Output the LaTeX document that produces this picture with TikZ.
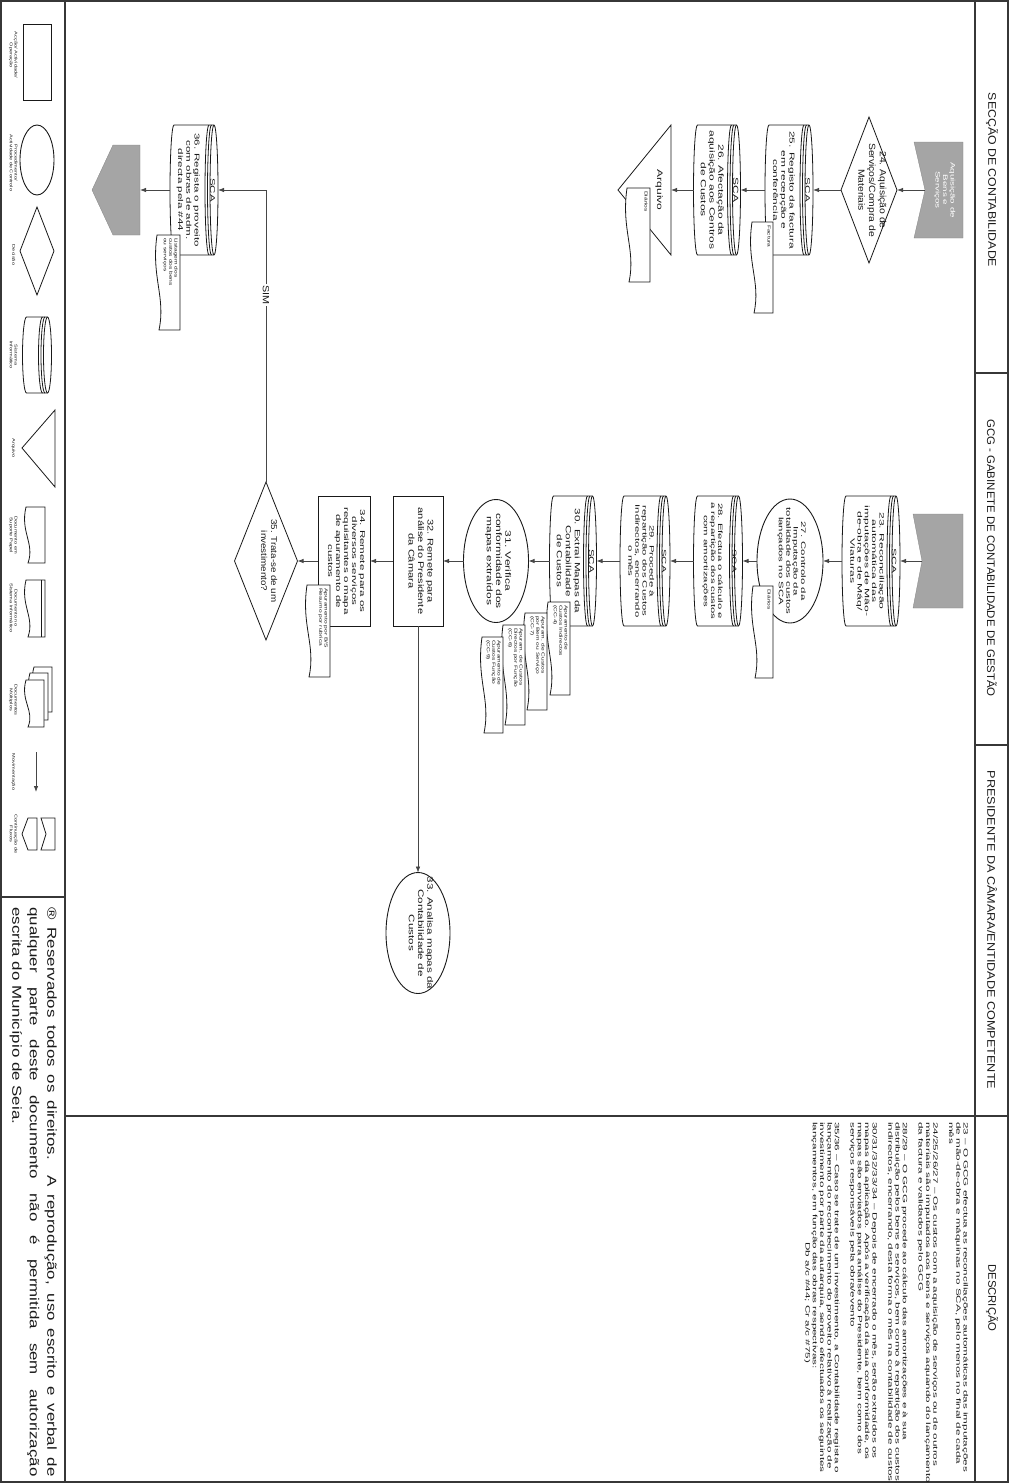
\documentclass[tikz,border=0pt]{standalone}
\usepackage{fontspec}
\setmainfont{Liberation Sans}
\usepackage{graphicx}
\usetikzlibrary{positioning,arrows.meta,shapes.geometric}
\definecolor{ink}{RGB}{25,25,25}
\definecolor{rulegray}{RGB}{55,55,55}
\definecolor{flowgray}{RGB}{70,70,70}
\definecolor{shade}{RGB}{165,165,165}
\newcommand{\fs}[2]{\fontsize{#1}{#2}\selectfont}
\newcommand{\vtext}[2][1.7]{\smash{\makebox[0pt]{\scalebox{#1}[1]{\begin{tabular}{@{}c@{}}#2\end{tabular}}}}}
\newcommand{\vleft}[2][1.5]{\scalebox{#1}[1]{\begin{tabular}{@{}l@{}}#2\end{tabular}}}
% disco SCA: nome, x, y, largura, altura, texto
\newcommand{\scadrum}[6]{%
  \pgfmathsetmacro{\drumh}{#5/2}%
  \pgfmathsetmacro{\drumxl}{#2-#4/2+4}%
  \pgfmathsetmacro{\drumxr}{#2+#4/2-4}%
  \filldraw[drumline, fill=white] (\drumxr,#3-\drumh) -- (\drumxl,#3-\drumh)
    arc[start angle=90,end angle=270,x radius=4pt,y radius=\drumh pt]
    -- (\drumxr,#3+\drumh)
    arc[start angle=270,end angle=450,x radius=4pt,y radius=\drumh pt] -- cycle;
  \draw[drumline] (\drumxr,#3-\drumh) arc[start angle=90,end angle=270,x radius=4pt,y radius=\drumh pt];
  \draw[drumline] (\drumxr-2.5,#3-\drumh) arc[start angle=90,end angle=270,x radius=4pt,y radius=\drumh pt];
  \draw[drumline] (\drumxr-5,#3-\drumh) arc[start angle=90,end angle=270,x radius=4pt,y radius=\drumh pt];
  \node[box, minimum width=#5pt, minimum height=#4pt] (#1) at (#2,#3) {#6};}
% documento em papel: nome, x1, y1, x2, y2, texto
\newcommand{\paperdoc}[6]{%
  \filldraw[docline] (#4,#3) -- (#4,#5) -- ({#2+2},#5)
    .. controls ({#2+9},{#5-0.35*(#5-#3)}) and ({#2-6},{#3+0.45*(#5-#3)}) .. (#2,#3) -- cycle;
  \node[doctxt] (#1) at ({#4-1.5},{#3+3}) {\vleft{#6}};}

\begin{document}
\begin{tikzpicture}[x=1pt,y=-1pt,
    lanerule/.style={draw=rulegray, line width=1.2pt},
    box/.style={rotate=-90, inner sep=0pt, outer sep=0pt, text=ink, font=\fs{6.6}{7.6}},
    act/.style={box, draw=ink, line width=0.9pt, fill=white},
    ctrl/.style={box, ellipse, draw=ink, line width=0.9pt, fill=white},
    dec/.style={box, diamond, draw=ink, line width=0.8pt, fill=white},
    drumline/.style={draw=ink, line width=0.8pt},
    docline/.style={draw=ink, line width=0.8pt, fill=white},
    doctxt/.style={rotate=-90, anchor=north west, inner sep=0pt, text=ink, font=\fs{4.4}{5.3}},
    lanehead/.style={rotate=-90, inner sep=0pt, text=ink, font=\fs{11}{13}},
    lgd/.style={rotate=-90, inner sep=0pt, text=ink, font=\fs{4}{4.8}},
    contfill/.style={fill=shade, draw=shade!80!black, line width=0.3pt},
    flowarr/.style={-{Latex[length=6pt,width=4.5pt]}, draw=flowgray, line width=0.8pt}]
\useasboundingbox (0,0) rectangle (1009,1483);

% moldura e colunas
\draw[lanerule] (1,1) rectangle (1008,1482);
\draw[lanerule] (65,1) -- (65,1482);
\draw[lanerule] (975,1) -- (975,1482);
\draw[lanerule] (975,373) -- (1008,373);
\draw[lanerule] (975,745) -- (1008,745);
\draw[lanerule] (65,1116) -- (1008,1116);
\draw[lanerule] (1,897) -- (65,897);

\node[lanehead] (hsec) at (992,180) {\scalebox{1.12}[1]{SECÇÃO DE CONTABILIDADE}};
\node[lanehead] (hgcg) at (992,558) {\scalebox{1.04}[1]{GCG - GABINETE DE CONTABILIDADE DE GESTÃO}};
\node[lanehead] (hpre) at (992,930) {\scalebox{1.15}[1]{PRESIDENTE DA CÂMARA/ENTIDADE COMPETENTE}};
\node[lanehead] (hdes) at (992,1298) {\scalebox{1.03}[1]{DESCRIÇÃO}};

% legenda
\node[act, minimum width=76pt, minimum height=28pt] (lgact) at (37,62) {};
\node[lgd] (lgactt) at (12,55) {\vtext[1.4]{Acção/ Actividade/\\Operação}};
\node[ctrl, minimum width=70pt, minimum height=34pt] (lgctrl) at (37,160) {};
\node[lgd] (lgctrlt) at (12,163) {\vtext[1.4]{Procedimento/\\Actividade de Controlo}};
\node[dec, minimum width=88pt, minimum height=34pt] (lgdec) at (37,251) {};
\node[lgd] (lgdect) at (12,255) {\vtext[1.4]{Decisão}};
\scadrum{lgsys}{37}{355}{29}{76}{}
\node[lgd] (lgsyst) at (12,355) {\vtext[1.4]{Sistema\\Informático}};
\filldraw[docline] (55,410) -- (22,448) -- (55,487) -- cycle;
\node[lgd] (lgarqt) at (12,448) {\vtext[1.4]{Arquivo}};
\paperdoc{lgpap}{26}{507}{45}{563}{}
\node[lgd] (lgpapt) at (12,535) {\vtext[1.4]{Documento em\\Suporte Papel}};
\paperdoc{lgsis}{26}{580}{45}{637}{}
\draw[drumline] (41,580) -- (41,637);
\node[lgd] (lgsist) at (12,608) {\vtext[1.4]{Documento no\\Sistema Informático}};
\paperdoc{lgm1}{34}{667}{52}{712}{}
\paperdoc{lgm2}{30}{673}{48}{720}{}
\paperdoc{lgm3}{26}{680}{44}{727}{}
\node[lgd] (lgmt) at (12,700) {\vtext[1.4]{Documentos\\Múltiplos}};
\coordinate (lgmova) at (36,752);
\coordinate (lgmovb) at (36,792);
\draw[flowarr] (lgmova) -- (lgmovb);
\node[lgd] (lgmovt) at (12,772) {\vtext[1.4]{Movimentação}};
\filldraw[docline] (37,818) -- (37,850) -- (28,850) -- (22,834) -- (28,818) -- cycle;
\filldraw[docline] (55,818) -- (55,850) -- (41,850) -- (46,834) -- (41,818) -- cycle;
\node[lgd] (lgcont) at (12,834) {\vtext[1.4]{Continuação de\\Fluxos}};

\node[rotate=-90, anchor=north west, inner sep=0pt, text=ink, font=\fs{13}{17.5}] (copy) at (57,907)
  {\scalebox{1.3}[1]{\parbox{438pt}{\hyphenpenalty=10000 ® Reservados todos os direitos. A reprodução, uso escrito e verbal de\linebreak qualquer parte deste documento não é permitida sem autorização\linebreak escrita do Município de Seia.}}};

% Secção de Contabilidade
\fill[contfill] (963,142) -- (963,238) -- (914,238) -- (925,190) -- (914,142) -- cycle;
\node[box, text=white, font=\fs{6.5}{7.5}] (gin1) at (943,190) {\vtext[1.5]{Aquisição de\\Bens e\\Serviços}};
\coordinate (gin1tip) at (925,190);
\node[dec, minimum width=146pt, minimum height=56pt, font=\fs{9}{10.8}] (d24) at (869,190)
  {\vtext[1.15]{24. Aquisição de\\Serviços/Compra de\\Materiais}};
\scadrum{c25}{789}{190}{48}{130}{\fs{7}{8.3}\vtext[1.7]{SCA\\[7pt]25. Registo da factura\\em recepção e\\conferência}}
\paperdoc{fac}{752}{222}{773}{313}{Factura}
\scadrum{c26}{717}{190}{47}{130}{\fs{7.5}{8.8}\vtext[1.6]{SCA\\[6pt]26. Afectação da\\aquisição aos Centros\\de Custos}}
\filldraw[docline] (671,125) -- (618,190) -- (671,255) -- cycle;
\node[box, minimum width=130pt, minimum height=53pt] (arq) at (644.5,190) {};
\node[box, font=\fs{8}{9}] (arqt) at (657,190) {\vtext[1.5]{Arquivo}};
\paperdoc{dia1}{627}{188}{650}{282}{Diários}

\scadrum{c36}{194}{190}{48}{130}{\fs{7}{8.3}\vtext[1.65]{SCA\\[7pt]36. Regista o proveito\\com obras de adm.\\directa pela \#44}}
\paperdoc{lst}{157}{235}{180}{330}{Listagem dos\\custos dos bens\\ou serviços}
\fill[contfill] (140,145) -- (140,235) -- (113,235) -- (92,190) -- (113,145) -- cycle;
\node[box, minimum width=90pt, minimum height=48pt] (gout) at (116,190) {};

% GCG
\fill[contfill] (963,514) -- (963,608) -- (913,608) -- (922,561) -- (913,514) -- cycle;
\coordinate (gin2tip) at (922,561);
\scadrum{c23}{871}{561}{58}{130}{\fs{6.4}{7.3}\vtext[1.9]{SCA\\[5pt]23. Reconciliação\\automática das\\imputações de Mão-\\de-obra e de Máq/\\Viaturas}}
\node[ctrl, minimum width=124pt, minimum height=66pt, font=\fs{6.5}{7.4}] (e27) at (790,561)
  {\vtext[1.75]{27. Controlo da\\Imputação da\\totalidade dos custos\\lançados no SCA}};
\paperdoc{dia2}{753}{586}{773}{678}{Diários}
\scadrum{c28}{718}{561}{49}{130}{\fs{6.3}{7.1}\vtext[1.8]{SCA\\[7pt]28. Efectua o cálculo e\\a repartição dos custos\\com amortizações}}
\scadrum{c29}{645}{561}{50}{130}{\fs{6.3}{7.1}\vtext[1.8]{SCA\\[5pt]29. Procede à\\repartição dos Custos\\Indirectos, encerrando\\o mês}}
\scadrum{c30}{573}{561}{47}{130}{\fs{7.5}{9}\vtext[1.55]{SCA\\[5pt]30. Extrai Mapas da\\Contabilidade\\de Custos}}
\paperdoc{cc4}{548}{602}{570}{695}{Apuramento de\\Custos Indirectos\\(CC-4)}
\paperdoc{cc7}{525}{613}{547}{710}{Apuram. de Custos\\por Bem ou Serviço\\(CC-7)}
\paperdoc{cc6}{503}{625}{525}{725}{Apuram. de Custos\\Directos por Função\\(CC-6)}
\paperdoc{cc9}{482}{637}{503}{733}{Apuramento de\\Custos Função\\(CC-9)}
\node[ctrl, minimum width=123pt, minimum height=65pt, font=\fs{8}{9.2}] (e31) at (496,561)
  {\vtext[1.5]{31. Verifica\\conformidade dos\\mapas extraídos}};
\node[act, minimum width=130pt, minimum height=50pt, font=\fs{8.2}{9.5}] (r32) at (418,561)
  {\vtext[1.35]{32. Remete para\\análise do Presidente\\da Câmara}};
\node[act, minimum width=130pt, minimum height=52pt, font=\fs{7}{8}] (r34) at (344,561)
  {\vtext[1.65]{34. Remete para os\\diversos serviços\\requisitantes o mapa\\de apuramento de\\custos}};
\paperdoc{rub}{307}{585}{330}{677}{Apuramento por B/S\\Resumo por rubrica}
\node[dec, minimum width=158pt, minimum height=63pt, font=\fs{8.5}{10}] (d35) at (266,561)
  {\vtext[1.15]{35. Trata-se de um\\investimento?}};

% Presidente
\node[ctrl, minimum width=121pt, minimum height=64pt, font=\fs{8}{9.2}] (e33) at (418,933)
  {\vtext[1.45]{33. Analisa mapas da\\Contabilidade de\\Custos}};

% descricao
\node[rotate=-90, anchor=north west, inner sep=0pt, text=ink, font=\fs{6.3}{7.3}] (desc) at (969,1122)
  {\scalebox{1.85}[1]{\begin{tabular}{@{}l@{}}
  23 – O GCG efectua as reconciliações automáticas das imputações\\
  de mão-de-obra e máquinas no SCA, pelo menos no final de cada\\
  mês\\[8.5pt]
  24/25/26/27 – Os custos com a aquisição de serviços ou de outros\\
  materiais são imputados aos bens e serviços aquando do lançamento\\
  da factura e validados pelo GCG\\[8.5pt]
  28/29 – O GCG procede ao cálculo das amortizações e à sua\\
  distribuição pelos bens e serviços, bem como à repartição dos custos\\
  indirectos, encerrando, desta forma o mês na contabilidade de custos\\[8.5pt]
  30/31/32/33/34 – Depois de encerrado o mês, serão extraídos os\\
  mapas da aplicação. Após a verificação da sua conformidade, os\\
  mapas são enviados para análise do Presidente, bem como dos\\
  serviços responsáveis pela obra/evento\\[8.5pt]
  35/36 – Caso se trate de um investimento, a Contabilidade regista o\\
  lançamento do reconhecimento do proveito relativo à realização de\\
  investimento por parte da autarquia, sendo efectuados os seguintes\\
  lançamentos, em função das obras respectivas:\\
  \multicolumn{1}{c}{Db a/c \#44; Cr a/c \#75)}
  \end{tabular}}};

% ligacoes
\draw[flowarr] (gin1tip) -- (d24);
\draw[flowarr] (d24) -- (c25);
\draw[flowarr] (c25) -- (c26);
\draw[flowarr] (c26) -- (arq);
\draw[flowarr] (c36) -- (gout);
\draw[flowarr] (gin2tip) -- (c23);
\draw[flowarr] (c23) -- (e27);
\draw[flowarr] (e27) -- (c28);
\draw[flowarr] (c28) -- (c29);
\draw[flowarr] (c29) -- (c30);
\draw[flowarr] (c30) -- (e31);
\draw[flowarr] (e31) -- (r32);
\draw[flowarr] (r32) -- (r34);
\draw[flowarr] (r34) -- (d35);
\draw[flowarr, line width=0.5pt] (r32) -- (e33);
\draw[flowarr] (d35.west) |- node[pos=0.32, rotate=-90, fill=white, inner sep=1.5pt, text=ink, font=\fs{9}{10}] (sim) {\scalebox{1.2}[1]{SIM}} (c36);
\end{tikzpicture}
\end{document}
